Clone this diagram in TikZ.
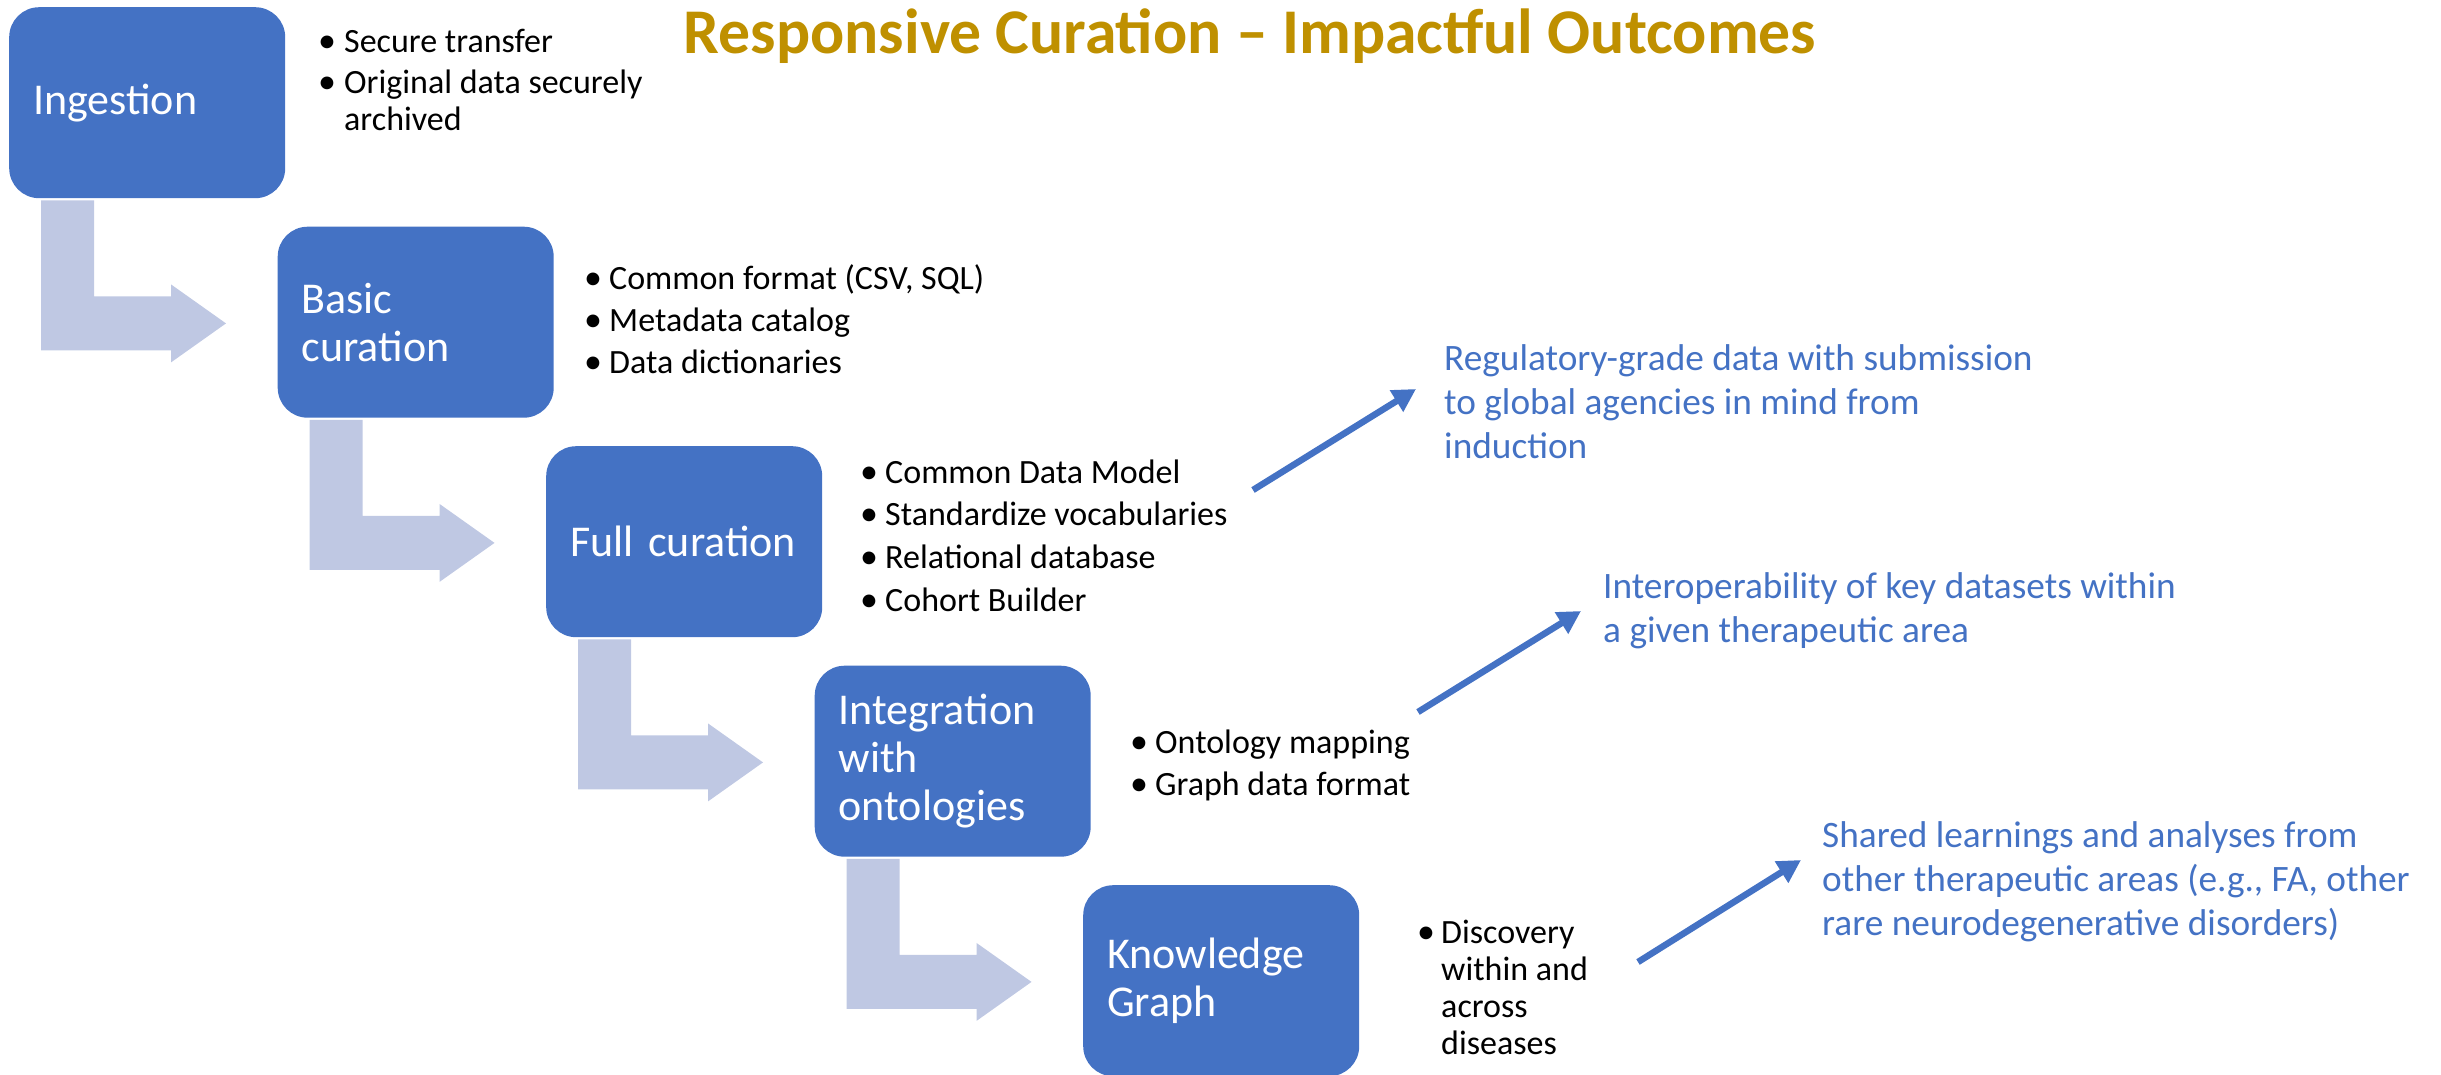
\documentclass[tikz,border=0pt]{standalone}
\usepackage{fontspec}
\setmainfont{Carlito}
\usetikzlibrary{arrows.meta,calc}
\definecolor{boxblue}{HTML}{4472C4}
\definecolor{bentfill}{HTML}{BFC8E3}
\definecolor{titlegold}{HTML}{BF9000}
\newcommand{\mylines}[1]{\begin{tabular}[t]{@{}l@{}}#1\end{tabular}}
\tikzset{
  stagebox/.style={fill=boxblue, draw=none, rounded corners=30pt,
    minimum width=276pt, minimum height=191pt, text width=228pt,
    inner xsep=24pt, inner ysep=0pt, align=left, anchor=north west,
    text=white, font=\fontsize{44}{48}\selectfont},
  bulletdot/.style={anchor=base west, inner sep=0pt, font=\fontsize{36}{37}\selectfont},
  bullettext/.style={anchor=base west, inner sep=0pt, font=\fontsize{34}{37}\selectfont},
  outcome/.style={anchor=base west, inner sep=0pt, text=boxblue, font=\fontsize{37.3}{44}\selectfont},
  bentarrow/.style={fill=bentfill, draw=none},
  bluearr/.style={draw=boxblue, line width=6.5pt, -{Triangle[length=23pt,width=24pt]}}
}
\newcommand{\bentarrowfrom}[1]{%
  \fill[bentarrow] ($(#1.south west)+(32,2)$) -- ($(#1.south west)+(85,2)$)
    -- ($(#1.south west)+(85,98)$) -- ($(#1.south west)+(162,98)$)
    -- ($(#1.south west)+(162,86)$) -- ($(#1.south west)+(217,125)$)
    -- ($(#1.south west)+(162,164)$) -- ($(#1.south west)+(162,152)$)
    -- ($(#1.south west)+(32,152)$) -- cycle;}
\begin{document}
\begin{tikzpicture}[x=1pt,y=-1pt]
\useasboundingbox (0,0) rectangle (2441,1074);
\begin{scope}
\clip (0,0) rectangle (2441,1074);
% title
\node[anchor=base, inner sep=0pt, text=titlegold, font=\bfseries\fontsize{63.7}{70}\selectfont] (title) at (1250,53) {Responsive Curation – Impactful Outcomes};

% stage boxes
\node[stagebox] (b1) at (9,7) {Ingestion};
\node[stagebox] (b2) at (277.5,226.5) {Basic\\curation};
\node[stagebox] (b3) at (546,446) {Full curation};
\node[stagebox] (b4) at (814.5,665.5) {Integration\\with\\ontologies};
\node[stagebox] (b5) at (1083,885) {Knowledge\\Graph};

% bent arrows
\bentarrowfrom{b1}
\bentarrowfrom{b2}
\bentarrowfrom{b3}
\bentarrowfrom{b4}

% bullet lists
\node[bulletdot] (l1d1) at (318,52) {•};
\node[bullettext] (l1t1) at (344,52) {Secure transfer};
\node[bulletdot] (l1d2) at (318,93) {•};
\node[bullettext] (l1t2) at (344,93) {\mylines{Original data securely\\archived}};

\node[bulletdot] (l2d1) at (584,289) {•};
\node[bullettext] (l2t1) at (609,289) {Common format (CSV, SQL)};
\node[bulletdot] (l2d2) at (584,331) {•};
\node[bullettext] (l2t2) at (609,331) {Metadata catalog};
\node[bulletdot] (l2d3) at (584,373) {•};
\node[bullettext] (l2t3) at (609,373) {Data dictionaries};

\node[bulletdot] (l3d1) at (860,483) {•};
\node[bullettext] (l3t1) at (885,483) {Common Data Model};
\node[bulletdot] (l3d2) at (860,525) {•};
\node[bullettext] (l3t2) at (885,525) {Standardize vocabularies};
\node[bulletdot] (l3d3) at (860,568) {•};
\node[bullettext] (l3t3) at (885,568) {Relational database};
\node[bulletdot] (l3d4) at (860,611) {•};
\node[bullettext] (l3t4) at (885,611) {Cohort Builder};

\node[bulletdot] (l4d1) at (1130,753) {•};
\node[bullettext] (l4t1) at (1155,753) {Ontology mapping};
\node[bulletdot] (l4d2) at (1130,795) {•};
\node[bullettext] (l4t2) at (1155,795) {Graph data format};

\node[bulletdot] (l5d1) at (1417,943) {•};
\node[bullettext] (l5t1) at (1441,943) {\mylines{Discovery\\within and\\across\\diseases}};

% outcomes
\node[outcome] (o1) at (1444,370) {\mylines{Regulatory-grade data with submission\\to global agencies in mind from\\induction}};
\node[outcome] (o2) at (1603,598) {\mylines{Interoperability of key datasets within\\a given therapeutic area}};
\node[outcome] (o3) at (1822,847) {\mylines{Shared learnings and analyses from\\other therapeutic areas (e.g., FA, other\\rare neurodegenerative disorders)}};

% blue arrows
\coordinate (a1s) at (1253,490);
\coordinate (a1e) at (1416,389);
\coordinate (a2s) at (1418,712);
\coordinate (a2e) at (1581,611);
\coordinate (a3s) at (1638,962);
\coordinate (a3e) at (1801,860);
\draw[bluearr] (a1s) -- (a1e);
\draw[bluearr] (a2s) -- (a2e);
\draw[bluearr] (a3s) -- (a3e);
\end{scope}
\end{tikzpicture}
\end{document}
